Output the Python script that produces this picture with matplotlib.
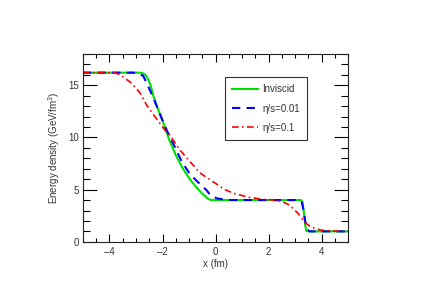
import matplotlib
matplotlib.use("Agg")
import matplotlib.pyplot as plt
from matplotlib.ticker import MultipleLocator

plt.rcParams['font.family'] = ['Liberation Sans', 'DejaVu Sans']
plt.rcParams['mathtext.fontset'] = 'custom'
plt.rcParams['mathtext.rm'] = 'Liberation Sans'
plt.rcParams['mathtext.it'] = 'Liberation Sans:italic'

# Inviscid
x_inv = [-5, -2.85, -2.75, -2.65, -2.55, -2.45, -2.35, -2.2, -2.0, -1.75, -1.5,
         -1.25, -1.0, -0.75, -0.5, -0.3, -0.2, -0.1, 1.0, 3.22, 3.28, 3.33, 3.38,
         3.42, 3.5, 5]
e_inv = [16.2, 16.2, 16.15, 16.0, 15.6, 15.0, 14.0, 12.9, 11.6, 9.8, 8.3,
         7.1, 6.1, 5.3, 4.6, 4.15, 4.02, 4.0, 4.0, 4.0, 3.8, 2.8, 1.6,
         1.05, 1.0, 1.0]

# eta/s = 0.01
x_001 = [-5, -3.0, -2.9, -2.73, -2.54, -2.35, -2.17, -1.98, -1.79, -1.5, -1.28,
         -0.97, -0.66, -0.34, -0.22, 0.04, 0.3, 0.5, 3.15, 3.25, 3.32, 3.38,
         3.45, 3.55, 5]
e_001 = [16.2, 16.2, 16.1, 15.9, 14.9, 13.8, 12.7, 11.5, 10.4, 8.9, 7.7,
         6.5, 5.7, 4.95, 4.55, 4.17, 4.05, 4.0, 4.0, 3.8, 3.0, 2.0,
         1.2, 1.0, 1.0]

# eta/s = 0.1
x_01 = [-5, -3.8, -3.6, -3.17, -2.86, -2.6, -2.29, -1.91, -1.72, -1.35, -0.97,
        -0.59, -0.3, 0.0, 0.35, 0.73, 1.29, 1.8, 2.2, 2.5, 2.8, 3.12, 3.35,
        3.6, 3.95, 4.3, 5]
e_01 = [16.2, 16.2, 16.0, 15.2, 14.3, 13.1, 12.0, 10.7, 10.2, 8.8, 7.7,
        6.6, 6.1, 5.6, 5.0, 4.6, 4.25, 4.07, 4.0, 3.88, 3.5, 2.7, 1.9,
        1.4, 1.13, 1.04, 1.0]

fig = plt.figure(figsize=(4.32, 2.96), dpi=100)
ax = fig.add_axes([0.192, 0.183, 0.614, 0.635])

ax.plot(x_inv, e_inv, color='#00e000', lw=1.5, label='Inviscid')
ax.plot(x_001, e_001, color='#0000ff', lw=1.5, ls=(0, (4, 3)), label='η/s=0.01')
ax.plot(x_01, e_01, color='#ff0000', lw=1.2, ls=(0, (4, 2, 1, 2)), label='η/s=0.1')

ax.set_xlim(-5, 5)
ax.set_ylim(0, 18)
ax.xaxis.set_major_locator(MultipleLocator(2))
ax.xaxis.set_minor_locator(MultipleLocator(0.5))
ax.yaxis.set_major_locator(MultipleLocator(5))
ax.yaxis.set_minor_locator(MultipleLocator(1))
ax.tick_params(which='both', direction='in', top=True, right=True, labelsize=7,
               width=0.8, labelcolor='#333333')
ax.tick_params(axis='x', which='major', length=6, pad=4)
ax.tick_params(axis='x', which='minor', length=3)
ax.tick_params(axis='y', which='major', length=10, pad=3)
ax.tick_params(axis='y', which='minor', length=5)
ax.xaxis.set_major_formatter(plt.FuncFormatter(lambda v, p: f'{v:g}'.replace('-', '\u2013')))
ax.yaxis.set_major_formatter(plt.FuncFormatter(lambda v, p: f'{v:g}'))
for s in ax.spines.values():
    s.set_linewidth(0.8)
    s.set_color('#222222')

ax.set_xlabel('x (fm)', fontsize=7, labelpad=1, color='#333333')
ax.set_ylabel('Energy density (GeV/fm$^{3}$)', fontsize=7, labelpad=4, color='#333333')

leg = ax.legend(loc='upper left', bbox_to_anchor=(0.536, 0.877), fontsize=7,
                frameon=True, fancybox=False, handlelength=2.6, labelspacing=0.95,
                borderpad=0.75, handletextpad=0.5, borderaxespad=0)
leg.get_frame().set_edgecolor('black')
leg.get_frame().set_linewidth(0.8)
for t in leg.get_texts():
    t.set_color('#333333')

fig.savefig('out.png', dpi=100)
